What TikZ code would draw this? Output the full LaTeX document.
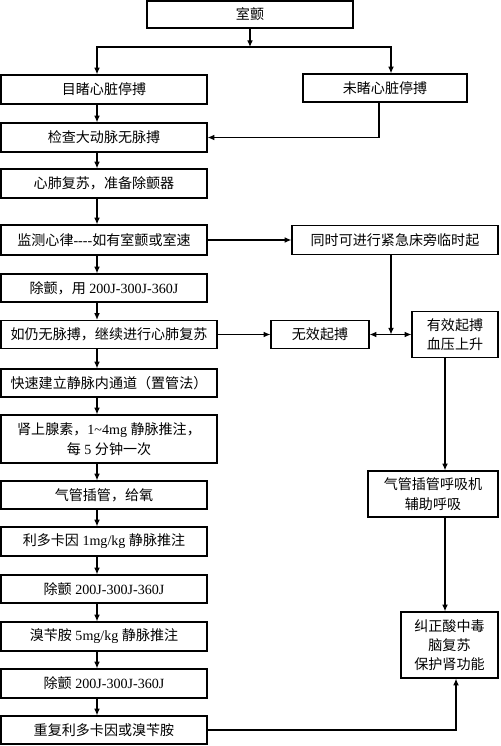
\documentclass[tikz,border=0pt]{standalone}
\usepackage{fontspec}
\setmainfont{Liberation Serif}
\newfontfamily\zh{Noto Sans CJK SC}
\usetikzlibrary{arrows.meta,calc}

\begin{document}
\begin{tikzpicture}[x=0.02cm,y=-0.02cm,line width=0.7pt,
	every node/.style={font=\fontsize{8}{11}\selectfont},
	box/.style 2 args={draw,inner sep=0pt,align=center,minimum width=#1*0.02cm,minimum height=#2*0.02cm},
	arr/.style={-{Latex[length=3.8pt,width=3.3pt]}},
	both/.style={{Latex[length=3.8pt,width=3.3pt]}-{Latex[length=3.8pt,width=3.3pt]}}]
			\useasboundingbox (0,0) rectangle (500,746);
			\node[box={206}{27}] (vf) at (250,14.5) {\zh 室颤};
			\node[box={206}{29}] (wit) at (104,89.5) {\zh 目睹心脏停搏};
			\node[box={164}{28}] (unw) at (385,88) {\zh 未睹心脏停搏};
			\node[box={206}{29}] (chk) at (104,137.5) {\zh 检查大动脉无脉搏};
			\node[box={206}{29}] (cpr) at (104,183.5) {\zh 心肺复苏，准备除颤器};
			\node[box={206}{30}] (mon) at (104,240) {{\zh 监测心律}-{}-{}-{}-{\zh 如有室颤或室速}};
			\node[box={206}{29}] (sim) at (395,240) {\zh 同时可进行紧急床旁临时起};
			\node[box={206}{28}] (def1) at (104,288) {{\zh 除颤，用} 200J-300J-360J};
			\node[box={216}{28}] (cont) at (109,334.5) {\zh 如仍无脉搏，继续进行心肺复苏};
			\node[box={98}{28}] (ineff) at (320,334.5) {\zh 无效起搏};
			\node[box={86}{46}] (eff) at (455,334.5) {{\zh 有效起搏}\\{\zh 血压上升}};
			\node[box={216}{28}] (iv) at (109,383) {\zh 快速建立静脉内通道（置管法）};
			\node[box={216}{48}] (epi) at (109,439) {{\zh 肾上腺素，}1\textasciitilde4mg {\zh 静脉推注，}\\{\zh 每} 5 {\zh 分钟一次}};
			\node[box={206}{28}] (intub) at (104,495) {\zh 气管插管，给氧};
			\node[box={206}{29}] (lido) at (104,541.5) {{\zh 利多卡因} 1mg/kg {\zh 静脉推注}};
			\node[box={206}{28}] (def2) at (104,589) {{\zh 除颤} 200J-300J-360J};
			\node[box={206}{29}] (bret) at (104,636.5) {{\zh 溴苄胺} 5mg/kg {\zh 静脉推注}};
			\node[box={206}{29}] (def3) at (104,683.5) {{\zh 除颤} 200J-300J-360J};
			\node[box={206}{28}] (rep) at (104,730) {\zh 重复利多卡因或溴苄胺};
			\node[box={130}{46}] (vent) at (433,494) {{\zh 气管插管呼吸机}\\{\zh 辅助呼吸}};
			\node[box={97}{66}] (corr) at (449.5,645) {{\zh 纠正酸中毒}\\{\zh 脑复苏}\\{\zh 保护肾功能}};
			\coordinate (spine) at (97,0);
			\coordinate (fork) at (250,47);
			\coordinate (rx) at (391,0);
			\coordinate (ry) at (445,0);
			\draw[arr] (vf) -- (fork);
			\draw[arr] (fork) -| (spine |- wit.north);
			\draw[arr] (fork) -| (rx |- unw.north);
			\draw[arr] ($(unw.south)+(-6,0)$) |- (chk);
			\draw[arr] (spine |- wit.south) -- (spine |- chk.north);
			\draw[arr] (spine |- chk.south) -- (spine |- cpr.north);
			\draw[arr] (spine |- cpr.south) -- (spine |- mon.north);
			\draw[arr] (spine |- mon.south) -- (spine |- def1.north);
			\draw[arr] (spine |- def1.south) -- (spine |- cont.north);
			\draw[arr] (spine |- cont.south) -- (spine |- iv.north);
			\draw[arr] (spine |- iv.south) -- (spine |- epi.north);
			\draw[arr] (spine |- epi.south) -- (spine |- intub.north);
			\draw[arr] (spine |- intub.south) -- (spine |- lido.north);
			\draw[arr] (spine |- lido.south) -- (spine |- def2.north);
			\draw[arr] (spine |- def2.south) -- (spine |- bret.north);
			\draw[arr] (spine |- bret.south) -- (spine |- def3.north);
			\draw[arr] (spine |- def3.south) -- (spine |- rep.north);
			\draw[arr] (mon) -- (sim);
			\draw[arr] (cont) -- (ineff);
			\draw[both] (ineff) -- (eff);
			\draw[arr] (rx |- sim.south) -- (rx |- ineff);
			\draw[arr] (ry |- eff.south) -- (ry |- vent.north);
			\draw[arr] (ry |- vent.south) -- (ry |- corr.north);
			\draw[arr] (rep) -| ($(corr.south)+(6.5,0)$);
		\end{tikzpicture}
\end{document}
